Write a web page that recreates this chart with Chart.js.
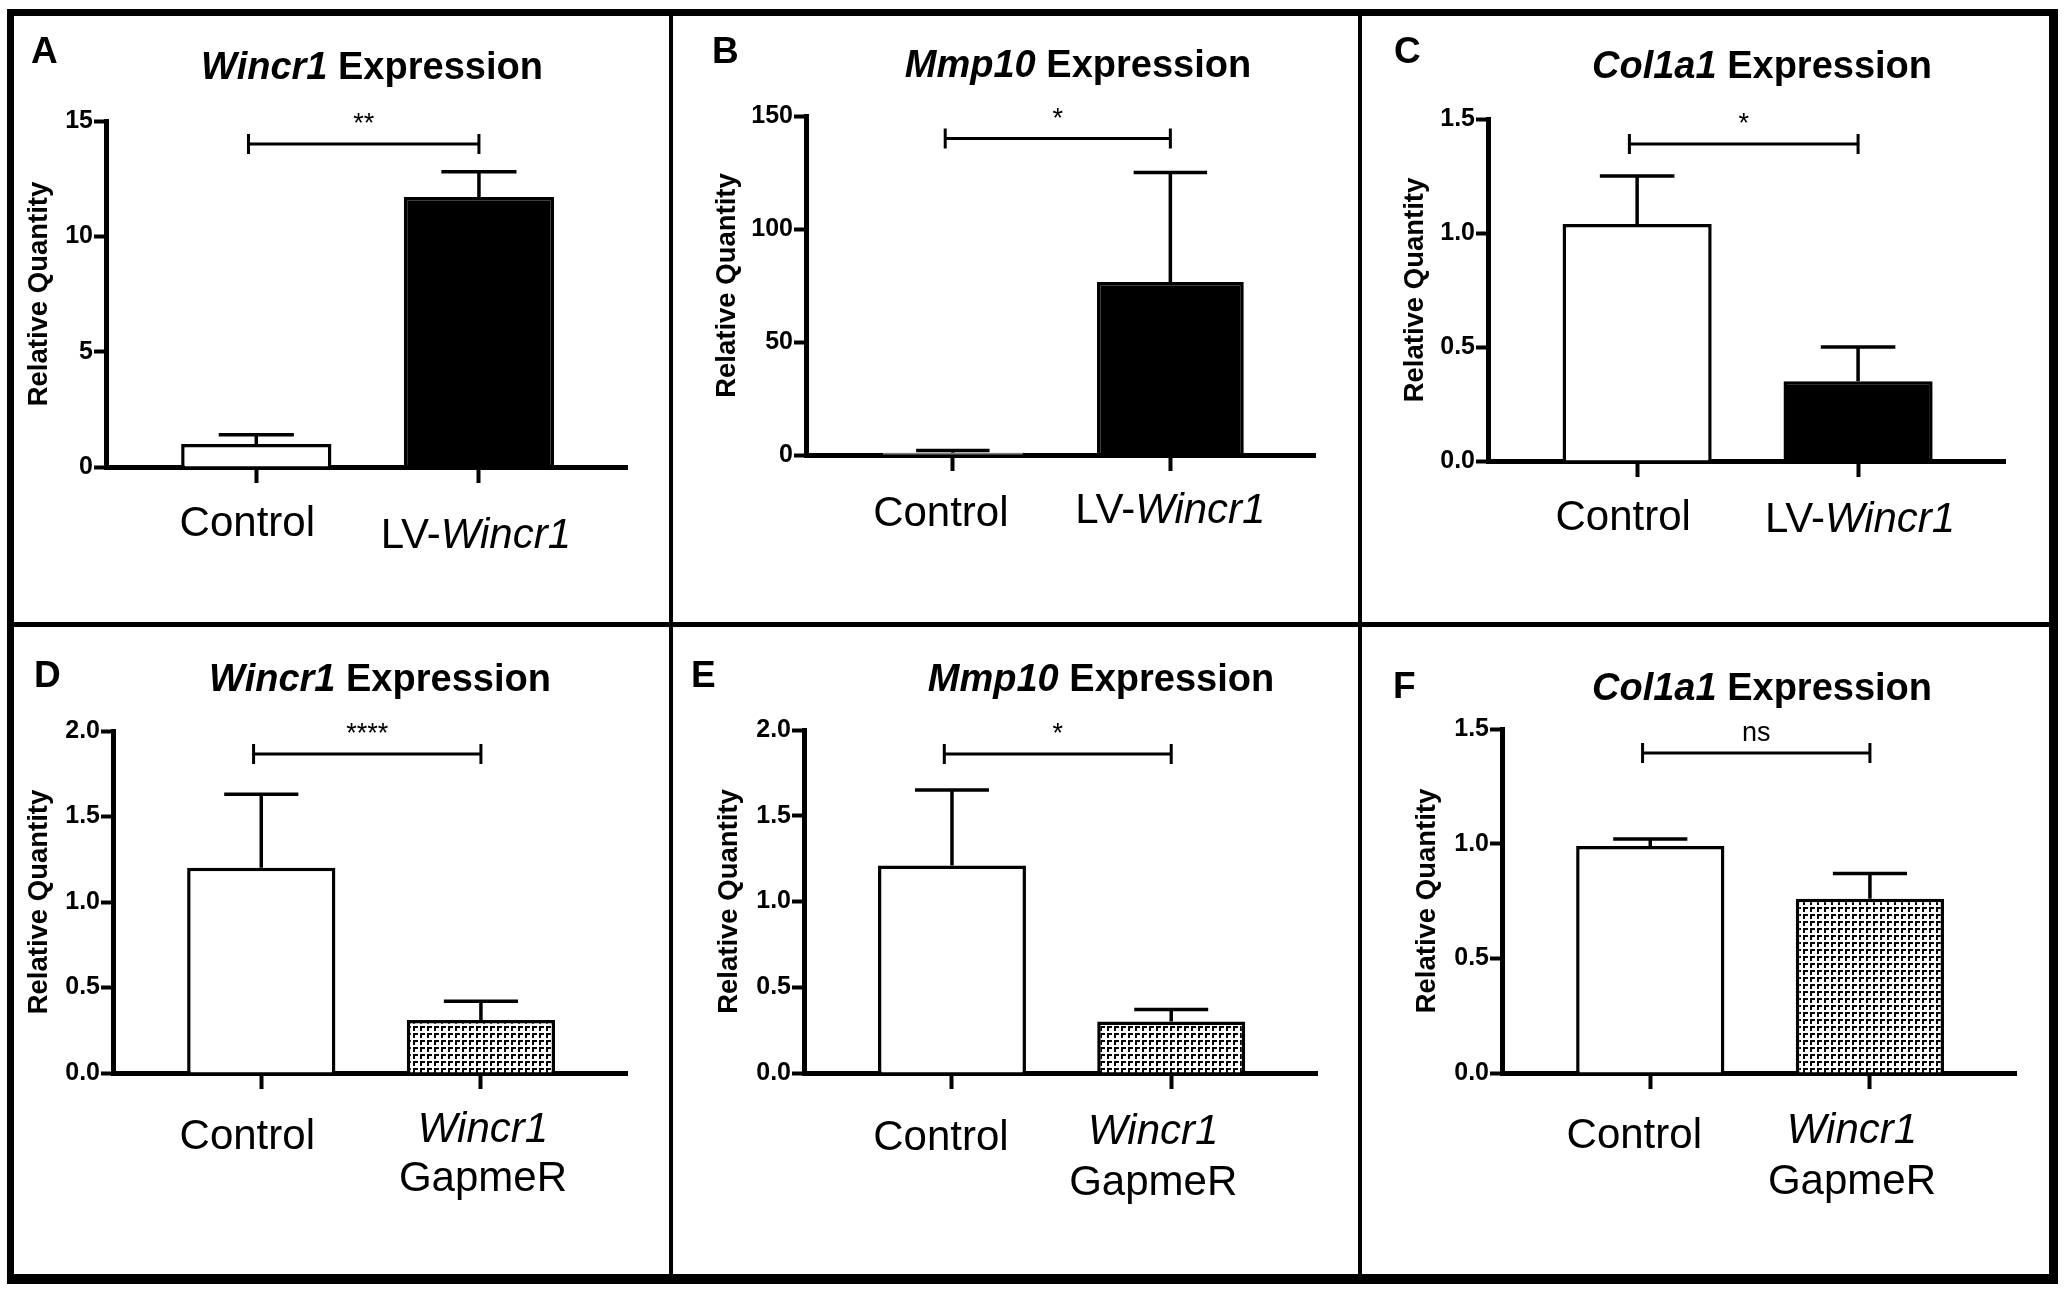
<!DOCTYPE html>
<html>
<head>
<meta charset="utf-8">
<script src="https://cdn.jsdelivr.net/npm/chart.js@4.4.1/dist/chart.umd.min.js"></script>
<style>
  html, body { margin: 0; padding: 0; background: #fff; }
  #page { position: relative; width: 2072px; height: 1298px; overflow: hidden; background: #fff; }
  .line { position: absolute; background: #000; }
  canvas { position: absolute; }
</style>
</head>
<body>
<div id="page">
  <div class="line" style="left:7px;top:9px;width:2051px;height:7px"></div>
  <div class="line" style="left:7px;top:9px;width:7px;height:1275px"></div>
  <div class="line" style="left:2049px;top:9px;width:9px;height:1275px"></div>
  <div class="line" style="left:7px;top:1274px;width:2051px;height:10px"></div>
  <div class="line" style="left:669px;top:16px;width:4px;height:1258px"></div>
  <div class="line" style="left:1358px;top:16px;width:4px;height:1258px"></div>
  <div class="line" style="left:14px;top:622px;width:2035px;height:5px"></div>
</div>
<script>
const FONT = '"Liberation Sans", Arial, Helvetica, sans-serif';

// ---- data ----
const letters = ['A', 'B', 'C', 'D', 'E', 'F'];
const titles = ['*Wincr1* Expression', '*Mmp10* Expression', '*Col1a1* Expression',
                '*Wincr1* Expression', '*Mmp10* Expression', '*Col1a1* Expression'];
const catsTop = ['Control', 'LV-*Wincr1*'];
const catsBottom = ['Control', '*Wincr1*\nGapmeR'];

const meansA = [1.0, 11.7];  const semA = [0.4, 1.1];
const meansB = [1.0, 76.5];  const semB = [1.0, 48.5];
const meansC = [1.04, 0.35]; const semC = [0.21, 0.15];
const meansD = [1.2, 0.31];  const semD = [0.43, 0.11];
const meansE = [1.21, 0.30]; const semE = [0.44, 0.07];
const meansF = [0.99, 0.76]; const semF = [0.03, 0.11];

const yMax = [15, 150, 1.5, 2.0, 2.0, 1.5];
const yStep = [5, 50, 0.5, 0.5, 0.5, 0.5];
const yDecimals = [0, 0, 1, 1, 1, 1];
const sigText = ['**', '*', '*', '****', '*', 'ns'];
const sigLevel = [14, 140, 1.39, 1.865, 1.86, 1.395];

// ---- layout (page pixels) ----
const cols = [[14, 669], [673, 1358], [1362, 2049]];
const rows = [[16, 622], [627, 1274]];
const layout = [
  { area: [106, 121, 627, 467],   title: [372, 79],   letter: [31, 63],    yTitle: 39,   labels: [[-9, 69], [-3, 81]] },
  { area: [806, 116, 1315, 455],  title: [1078, 77],  letter: [712, 63],   yTitle: 727,  labels: [[-12, 71], [0, 68]] },
  { area: [1488, 119, 2005, 461], title: [1762, 78],  letter: [1394, 63],  yTitle: 1415, labels: [[-14, 69], [2, 71]] },
  { area: [113, 731, 627, 1073],  title: [380, 691],  letter: [34, 687],   yTitle: 39,   labels: [[-14, 76], [2, 69, 118]] },
  { area: [804, 730, 1317, 1073], title: [1101, 691], letter: [691, 687],  yTitle: 729,  labels: [[-11, 77], [-18, 71, 122]] },
  { area: [1502, 729, 2016, 1073], title: [1762, 700], letter: [1393, 698], yTitle: 1427, labels: [[-16, 75], [-18, 70, 121]] }
];

const means = [meansA, meansB, meansC, meansD, meansE, meansF];
const sems = [semA, semB, semC, semD, semE, semF];

function makePattern(ctx) {
  const c = document.createElement('canvas');
  c.width = 7; c.height = 7;
  const g = c.getContext('2d');
  g.fillStyle = '#fff'; g.fillRect(0, 0, 7, 7);
  g.fillStyle = '#000';
  g.fillRect(0, 0, 5, 2);
  g.fillRect(0, 0, 2, 5);
  return ctx.createPattern(c, 'repeat');
}

// text with *italic* parts, centred on cx
function drawRich(ctx, str, cx, y, size, bold) {
  const parts = str.split('*').map((t, k) => ({ t, it: k % 2 === 1 })).filter(p => p.t);
  const fontOf = p => (p.it ? 'italic ' : '') + (bold ? 'bold ' : '') + size + 'px ' + FONT;
  let w = 0;
  parts.forEach(p => { ctx.font = fontOf(p); p.w = ctx.measureText(p.t).width; w += p.w; });
  let x = cx - w / 2;
  ctx.textAlign = 'left';
  ctx.textBaseline = 'alphabetic';
  ctx.fillStyle = '#000';
  parts.forEach(p => { ctx.font = fontOf(p); ctx.fillText(p.t, x, y); x += p.w; });
}

const page = document.getElementById('page');

letters.forEach((letter, p) => {
  const L = layout[p];
  const col = cols[p % 3], row = rows[Math.floor(p / 3)];
  const ox = col[0], oy = row[0];
  const cw = col[1] - col[0], ch = row[1] - row[0];
  const cats = p < 3 ? catsTop : catsBottom;
  const yTitleSize = 27.5;

  const cv = document.createElement('canvas');
  cv.width = cw; cv.height = ch;
  cv.style.left = ox + 'px'; cv.style.top = oy + 'px';
  page.appendChild(cv);
  const ctx = cv.getContext('2d');

  const fills = p < 3 ? ['#ffffff', '#000000'] : ['#ffffff', makePattern(ctx)];

  const decor = {
    id: 'decor' + p,
    afterDatasetsDraw(chart) {
      const c = chart.ctx, ys = chart.scales.y;
      const meta = chart.getDatasetMeta(0);
      c.save();
      c.strokeStyle = '#000';
      c.lineWidth = 3.5;
      meta.data.forEach((bar, i) => {
        const top = ys.getPixelForValue(means[p][i] + sems[p][i]);
        const half = bar.width / 4;
        c.beginPath();
        c.moveTo(bar.x, bar.y); c.lineTo(bar.x, top);
        c.moveTo(bar.x - half, top); c.lineTo(bar.x + half, top);
        c.stroke();
      });
      c.restore();
    },
    afterDraw(chart) {
      const c = chart.ctx, xs = chart.scales.x, ys = chart.scales.y;
      const area = chart.chartArea;
      c.save();
      // panel letter
      c.fillStyle = '#000';
      c.font = 'bold 37px ' + FONT;
      c.textAlign = 'left'; c.textBaseline = 'alphabetic';
      c.fillText(letter, L.letter[0] - ox, L.letter[1] - oy);
      // title
      drawRich(c, titles[p], L.title[0] - ox, L.title[1] - oy, 38, true);
      // category labels
      cats.forEach((cat, i) => {
        const off = L.labels[i];
        const x = xs.getPixelForValue(i + 1) + off[0];
        cat.split('\n').forEach((line, k) => {
          drawRich(c, line, x, area.bottom + off[1 + k], 42, false);
        });
      });
      // significance bracket
      const x1 = xs.getPixelForValue(0.965), x2 = xs.getPixelForValue(2);
      const by = ys.getPixelForValue(sigLevel[p]);
      c.strokeStyle = '#000';
      c.lineWidth = 3;
      c.beginPath();
      c.moveTo(x1, by); c.lineTo(x2, by);
      c.moveTo(x1, by - 10); c.lineTo(x1, by + 10);
      c.moveTo(x2, by - 10); c.lineTo(x2, by + 10);
      c.stroke();
      c.font = '27px ' + FONT;
      c.textAlign = 'center';
      c.fillText(sigText[p], (x1 + x2) / 2, by - 12);
      c.restore();
    }
  };

  new Chart(ctx, {
    type: 'bar',
    data: {
      datasets: [{
        data: means[p].map((v, i) => ({ x: i + 1, y: v })),
        backgroundColor: fills,
        borderColor: '#000',
        borderWidth: 3.5,
        barPercentage: 0.675,
        categoryPercentage: 1
      }]
    },
    options: {
      responsive: false,
      animation: false,
      layout: { padding: { left: 0, top: L.area[1] - oy, right: cw - (L.area[2] - ox), bottom: 0 } },
      plugins: { legend: { display: false }, tooltip: { enabled: false } },
      scales: {
        x: {
          type: 'linear', min: 0.325, max: 2.665, offset: false, z: 1,
          afterBuildTicks: s => { s.ticks = cats.map((c, i) => ({ value: i + 1 })); },
          afterFit: s => { s.height = ch - (L.area[3] - oy); },
          ticks: { display: false },
          grid: { offset: false, drawOnChartArea: false, drawTicks: true, tickLength: 16, tickWidth: 4, tickColor: '#000', color: '#000' },
          border: { display: true, color: '#000', width: 5 }
        },
        y: {
          type: 'linear', min: 0, max: yMax[p], z: 1,
          afterFit: s => { s.width = L.area[0] - ox; },
          ticks: {
            stepSize: yStep[p], color: '#000', padding: 1,
            font: { family: FONT, size: 25, weight: 'bold' },
            callback: v => Number(v).toFixed(yDecimals[p])
          },
          grid: { drawOnChartArea: false, drawTicks: true, tickLength: 12, tickWidth: 4, tickColor: '#000', color: '#000' },
          border: { display: true, color: '#000', width: 5 },
          title: {
            display: true, text: 'Relative Quantity', color: '#000',
            font: { family: FONT, size: yTitleSize, weight: 'bold', lineHeight: 1 },
            padding: { top: L.yTitle - ox - yTitleSize / 2, bottom: 0 }
          }
        }
      }
    },
    plugins: [decor]
  });
});
</script>
</body>
</html>
